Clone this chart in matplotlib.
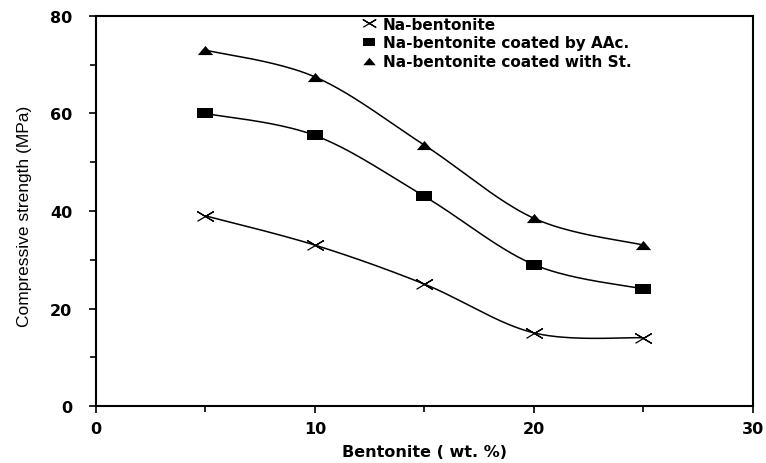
import numpy as np
import matplotlib
matplotlib.use("Agg")
import matplotlib.pyplot as plt
from matplotlib.ticker import MultipleLocator

# bentonite content (wt. %) and compressive strength (MPa)
bentonite = [5, 10, 15, 20, 25]
na_bentonite = [39, 33, 25, 15, 14]
coated_aac = [60, 55.5, 43, 29, 24]
coated_st = [73, 67.5, 53.5, 38.5, 33]

labels = ["Na-bentonite",
          "Na-bentonite coated by AAc.",
          "Na-bentonite coated with St."]

# wide markers
cross = [(-1, -0.6), (1, 0.6), (0, 0), (-1, 0.6), (1, -0.6), (0, 0)]
square = [(-1, -0.65), (1, -0.65), (1, 0.65), (-1, 0.65), (-1, -0.65)]
triangle = [(-1, -0.6), (1, -0.6), (0, 0.6), (-1, -0.6)]


def smooth(x, y, n=40):
    '''Smoothed line through the points, Bezier segments with
    control points from neighbouring points (spreadsheet style).'''
    p = np.column_stack([x, y]).astype(float)
    out = []
    for i in range(len(p) - 1):
        p0 = p[i - 1] if i > 0 else p[i]
        p1, p2 = p[i], p[i + 1]
        p3 = p[i + 2] if i + 2 < len(p) else p[i + 1]
        c1 = p1 + (p2 - p0) / 6.0
        c2 = p2 - (p3 - p1) / 6.0
        t = np.linspace(0, 1, n)[:, None]
        seg = ((1 - t) ** 3 * p1 + 3 * (1 - t) ** 2 * t * c1
               + 3 * (1 - t) * t ** 2 * c2 + t ** 3 * p2)
        out.append(seg if i == 0 else seg[1:])
    out = np.vstack(out)
    return out[:, 0], out[:, 1]


def main():
    plt.rcParams['font.family'] = ['DejaVu Sans']
    fig = plt.figure(figsize=(7.66, 4.64), dpi=100)
    ax = fig.add_axes([0.1253, 0.1228, 0.8577, 0.8406])

    series = [na_bentonite, coated_aac, coated_st]
    for ys, m, lab in zip(series, [cross, square, triangle], labels):
        sx, sy = smooth(bentonite, ys)
        ax.plot(sx, sy, color='black', lw=1.1)
        if m is cross:
            ax.plot(bentonite, ys, ls='none', marker=m, ms=11.5, mew=0.9,
                    mfc='none', color='black', label=lab)
        else:
            ax.plot(bentonite, ys, ls='none', marker=m, ms=11, mew=0,
                    color='black', label=lab)

    ax.set_xlim(0, 30)
    ax.set_ylim(0, 80)
    ax.xaxis.set_major_locator(MultipleLocator(10))
    ax.xaxis.set_minor_locator(MultipleLocator(5))
    ax.yaxis.set_major_locator(MultipleLocator(20))
    ax.yaxis.set_minor_locator(MultipleLocator(10))
    ax.tick_params(which='both', direction='out', width=1.2, labelsize=11.5)
    ax.tick_params(which='major', length=5)
    ax.tick_params(which='minor', length=4)
    ax.tick_params(axis='x', pad=6)
    ax.tick_params(axis='y', pad=12)
    for lab in ax.get_xticklabels() + ax.get_yticklabels():
        lab.set_fontweight('bold')
    for s in ax.spines.values():
        s.set_linewidth(1.5)

    ax.set_xlabel('Bentonite ( wt. %)', fontweight='bold', fontsize=11.5)
    ax.xaxis.set_label_coords(0.5, -0.098)
    ax.set_ylabel('Compressive strength (MPa)',
                  family=['Liberation Sans'], fontsize=12.5)
    ax.yaxis.set_label_coords(-0.098, 0.49)

    leg = ax.legend(loc='upper left', bbox_to_anchor=(0.39, 1.022),
                    frameon=False, handlelength=1.0, handletextpad=0.4,
                    labelspacing=0.25, borderaxespad=0.2,
                    prop={'weight': 'bold', 'size': 11})
    for h in leg.legend_handles:
        h.set_markersize(9)

    fig.savefig('out.png', dpi=100)
    plt.close(fig)


if __name__ == "__main__":
    main()
